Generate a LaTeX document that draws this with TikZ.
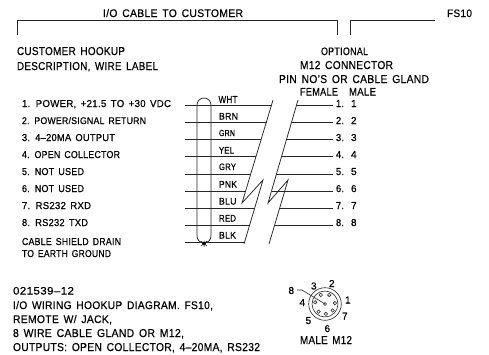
\documentclass[tikz,border=0pt]{standalone}
\usepackage{graphicx}
\usepackage{fontspec}
\setmainfont{Liberation Sans}[WordSpace=1.5,LetterSpace=3,FakeBold=0.5]
\tikzset{
  txt/.style={anchor=north west,inner sep=0pt,outer sep=0pt,text=black},
  ln/.style={draw=black!85,line width=0.75pt},
  pinhole/.style={draw=black!85,line width=0.6pt}
}
% name, x, top y, width, height, text
\newcommand\TT[6]{\node[txt] (#1) at (#2,#3) {\resizebox{#4pt}{#5pt}{#6}};}
\begin{document}
\begin{tikzpicture}[x=1pt,y=-1pt]
\useasboundingbox[fill=white] (0,0) rectangle (489,354);
% header brackets
\coordinate (la) at (17,35); \coordinate (lb) at (17,20); \coordinate (lc) at (337.7,20); \coordinate (ld) at (337.7,35);
\coordinate (ra) at (350.7,35); \coordinate (rb) at (350.7,20); \coordinate (rc) at (435,20);
\draw[ln] (la) -- (lb) -- (lc) -- (ld);
\draw[ln] (ra) -- (rb) -- (rc);
\TT{title}{103}{9}{140}{8}{I/O CABLE TO CUSTOMER}
\TT{fsten}{447}{9.5}{25}{7.5}{FS10}
\TT{hookup}{17}{47}{108}{8}{CUSTOMER HOOKUP}
\TT{desc}{17}{62}{141}{8}{DESCRIPTION, WIRE LABEL}
\TT{opt}{321}{47.5}{47}{7.5}{OPTIONAL}
\TT{mconn}{300}{61}{93}{8}{M12 CONNECTOR}
\TT{pinno}{279}{75}{150}{8}{PIN NO'S OR CABLE GLAND}
\TT{female}{300}{88}{38}{7.5}{FEMALE}
\TT{male}{349}{88}{27}{7.5}{MALE}
% customer list
\TT{r1}{22}{100}{149}{7}{1. POWER, +21.5 TO +30 VDC}
\TT{r2}{22}{117}{124}{7}{2. POWER/SIGNAL RETURN}
\TT{r3}{22}{134}{93}{7}{3. 4--20MA OUTPUT}
\TT{r4}{22}{151}{98}{7}{4. OPEN COLLECTOR}
\TT{r5}{22}{168}{62}{7}{5. NOT USED}
\TT{r6}{22}{185}{62}{7}{6. NOT USED}
\TT{r7}{22}{202}{69}{7}{7. RS232 RXD}
\TT{r8}{22}{219}{66}{7}{8. RS232 TXD}
\TT{drain}{22}{238}{99}{7}{CABLE SHIELD DRAIN}
\TT{earth}{22}{250}{89}{7}{TO EARTH GROUND}
% wire labels
\TT{wht}{218.5}{96}{19}{7}{WHT}
\TT{brn}{219}{113}{19}{6.5}{BRN}
\TT{grn}{219}{130}{16}{6}{GRN}
\TT{yel}{219}{147}{15}{6.5}{YEL}
\TT{gry}{219}{163.5}{17}{6.5}{GRY}
\TT{pnk}{219}{181}{18}{6.5}{PNK}
\TT{blu}{219}{198}{17.5}{6.5}{BLU}
\TT{red}{219}{215}{17}{6.5}{RED}
\TT{blk}{219}{232}{17}{6.5}{BLK}
% pins
\foreach \n/\y in {1/100,2/117,3/134,4/151,5/168,6/185,7/202,8/219}{
  \node[txt] (pa\n) at (336,\y) {\resizebox{8pt}{7pt}{\n.}};
  \node[txt] (pb\n) at (351,\y) {\resizebox{!}{7pt}{\n}};
}
% wires
\foreach \n/\y/\xl/\xr in {1/105.3/271.5/296,2/122.3/266.5/291,3/139.7/261/286,4/156.7/256/281,5/174/251/276,6/191/246/271.5,7/208/255/280,8/225/250/275,9/242.7/244.5/269.5}{
  \coordinate (wa\n) at (185,\y);
  \coordinate (wb\n) at (\xl,\y);
  \coordinate (wc\n) at (\xr,\y);
  \coordinate (wd\n) at (333,\y);
  \draw[ln] (wa\n) -- (wb\n);
  \ifnum\n<9 \draw[ln] (wc\n) -- (wd\n); \fi
}
% break lines
\coordinate (ba) at (273,100); \coordinate (bb) at (242,203); \coordinate (bc) at (263,180); \coordinate (bd) at (244,244);
\coordinate (ca) at (298,100); \coordinate (cb) at (268,203); \coordinate (cc) at (288,180); \coordinate (cd) at (269,244);
\draw[ln] (ba) -- (bb) -- (bc) -- (bd);
\draw[ln] (ca) -- (cb) -- (cc) -- (cd);
% shield
\draw[ln,rounded corners=7pt] (197,98) rectangle (211,243);
\fill[black] (204,243.5) circle (1.8pt);
\draw[black,line width=0.5pt] (201,241) -- (207,246) (201,246) -- (207,241) (204,240.5) -- (204,247);
% bottom text
\TT{code}{13}{287}{61}{7.5}{021539--12}
\TT{bta}{13}{301}{200}{8}{I/O WIRING HOOKUP DIAGRAM. FS10,}
\TT{btb}{13}{315}{99}{8}{REMOTE W/ JACK,}
\TT{btc}{13}{329}{171}{8}{8 WIRE CABLE GLAND OR M12,}
\TT{btd}{13}{343}{247}{8}{OUTPUTS: OPEN COLLECTOR, 4--20MA, RS232}
% M12 connector
\coordinate (mc) at (325,304);
\draw[ln,line width=0.6pt] (mc) circle (16.3pt);
\draw[ln,line width=0.6pt] (mc) circle (13pt);
\draw[pinhole] (mc) circle (1.5pt);
\foreach \a in {130,85,40,-5,-65,-115,-170}{
  \draw[pinhole] (mc) ++(\a:10pt and -10pt) circle (1.7pt);
}
\coordinate (ml) at (297,290); \coordinate (mk) at (302,290);
\draw[ln,line width=0.6pt] (ml) -- (mk) -- (mc);
\foreach \n/\x/\y in {8/288.5/287,3/311/282.5,2/329/280,1/345/296.5,7/342/312.5,6/324.5/325,5/305.5/317,4/299.5/299}{
  \node[txt] (mn\n) at (\x,\y) {\resizebox{!}{7pt}{\n}};
}
\TT{mlab}{300}{336}{52}{8}{MALE M12}
\end{tikzpicture}
\end{document}
